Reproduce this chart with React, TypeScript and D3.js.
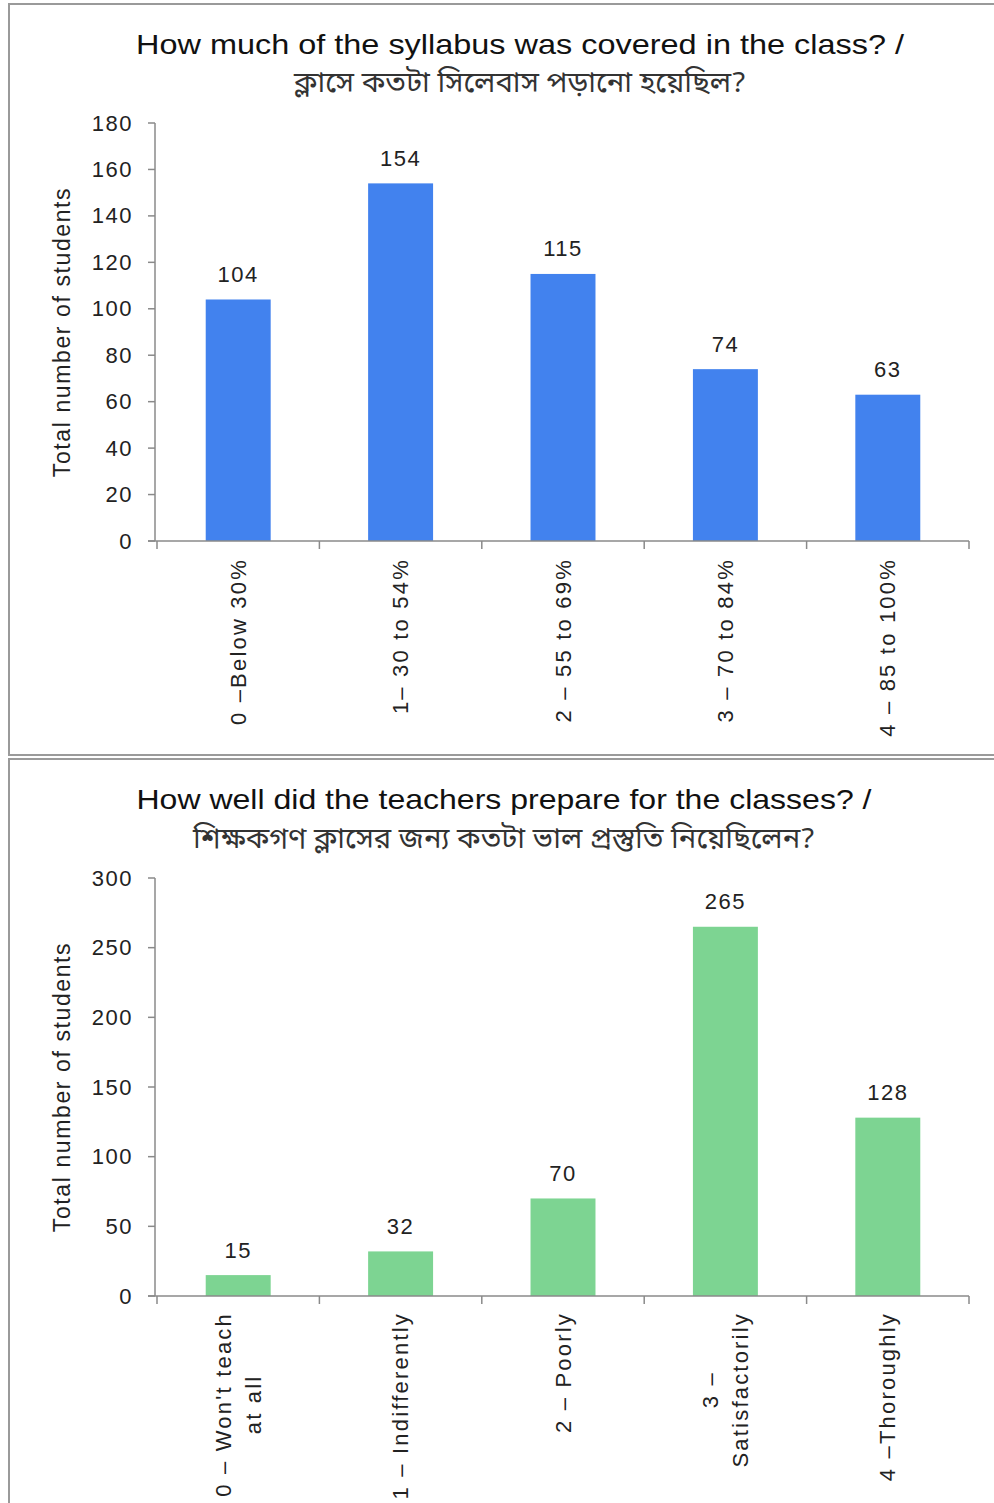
import React, { useEffect, useRef } from "react";
import * as d3 from "d3";

const categories1: string[][] = [["0 –Below 30%"], ["1– 30 to 54%"], ["2 – 55 to 69%"], ["3 – 70 to 84%"], ["4 – 85 to 100%"]];
const values1: number[] = [104, 154, 115, 74, 63];
const ticks1: number[] = [0, 20, 40, 60, 80, 100, 120, 140, 160, 180];
const title1a = "How much of the syllabus was covered in the class?  /";
const title1b = "ক্লাসে কতটা সিলেবাস পড়ানো হয়েছিল?";

const categories2: string[][] = [["0 – Won't teach", "at all"], ["1 – Indifferently"], ["2 – Poorly"], ["3 –", "Satisfactorily"], ["4 –Thoroughly"]];
const values2: number[] = [15, 32, 70, 265, 128];
const ticks2: number[] = [0, 50, 100, 150, 200, 250, 300];
const title2a = "How well did the teachers prepare for the classes? /";
const title2b = "শিক্ষকগণ ক্লাসের জন্য কতটা ভাল প্রস্তুতি নিয়েছিলেন?";

const yTitle = "Total number of students";

const FONT = "'Liberation Sans', Arial, sans-serif";
const BN_FONT = "'Noto Sans Bengali', 'Lohit Bengali', 'FreeSans', 'Noto Sans', sans-serif";

interface ChartCfg {
  cats: string[][];
  vals: number[];
  ticks: number[];
  max: number;
  color: string;
  t1: string;
  t2: string;
  titleX: number;
  t1Len: number;
  t2Len: number;
  t1Y: number;
  t2Y: number;
  plotTop: number;
  plotBottom: number;
  labelTop: number;
}

const charts: ChartCfg[] = [
  {
    cats: categories1, vals: values1, ticks: ticks1, max: 180, color: "#4282ee",
    t1: title1a, t2: title1b, titleX: 520, t1Len: 768, t2Len: 452, t1Y: 54, t2Y: 92,
    plotTop: 123, plotBottom: 541, labelTop: 558,
  },
  {
    cats: categories2, vals: values2, ticks: ticks2, max: 300, color: "#7dd492",
    t1: title2a, t2: title2b, titleX: 504, t1Len: 735, t2Len: 622, t1Y: 809, t2Y: 848,
    plotTop: 878, plotBottom: 1296, labelTop: 1312,
  },
];

export default function App() {
  const ref = useRef<SVGSVGElement>(null);

  useEffect(() => {
    const svg = d3.select(ref.current);
    svg.selectAll("*").remove();
    svg.append("rect").attr("width", 994).attr("height", 1503).attr("fill", "#fff");

    // panel frames
    const frame = svg.append("g").attr("stroke", "#9a9a9a").attr("stroke-width", 2).attr("fill", "none");
    frame.append("path").attr("d", "M9,1503 V759 H994");
    frame.append("path").attr("d", "M994,755 H9 V4 H994");

    const xLeft = 157;
    const xRight = 969;
    const axisX = 155;

    charts.forEach((c) => {
      const g = svg.append("g");
      const idx = c.cats.map((_, i) => String(i));
      const xBand = d3.scaleBand<string>().domain(idx).range([xLeft, xRight]).padding(0);
      const xBar = d3.scaleBand<string>().domain(idx).range([xLeft, xRight]).paddingInner(0.6).paddingOuter(0.3);
      const y = d3.scaleLinear().domain([0, c.max]).range([c.plotBottom, c.plotTop]);

      // titles
      g.append("text")
        .attr("x", c.titleX).attr("y", c.t1Y)
        .attr("text-anchor", "middle")
        .attr("font-family", FONT).attr("font-size", 28)
        .attr("fill", "#111")
        .attr("textLength", c.t1Len).attr("lengthAdjust", "spacingAndGlyphs")
        .text(c.t1);
      g.append("text")
        .attr("x", c.titleX).attr("y", c.t2Y)
        .attr("text-anchor", "middle")
        .attr("font-family", BN_FONT).attr("font-size", 28)
        .attr("fill", "#333")
        .attr("textLength", c.t2Len).attr("lengthAdjust", "spacingAndGlyphs")
        .text(c.t2);

      // bars
      g.selectAll("rect.bar").data(c.vals).enter().append("rect")
        .attr("class", "bar")
        .attr("x", (_, i) => xBar(String(i))!)
        .attr("width", xBar.bandwidth())
        .attr("y", (d) => y(d))
        .attr("height", (d) => y(0) - y(d))
        .attr("fill", c.color);

      // value labels
      g.selectAll("text.val").data(c.vals).enter().append("text")
        .attr("class", "val")
        .attr("x", (_, i) => xBand(String(i))! + xBand.bandwidth() / 2)
        .attr("y", (d) => y(d) - 25)
        .attr("text-anchor", "middle")
        .attr("dominant-baseline", "central")
        .attr("font-family", FONT).attr("font-size", 22)
        .attr("letter-spacing", 1.5)
        .attr("fill", "#222")
        .text((d) => String(d));

      // y axis
      const axisG = g.append("g").attr("stroke", "#8a8a8a").attr("stroke-width", 1.5);
      axisG.append("line").attr("x1", axisX).attr("x2", axisX).attr("y1", y(c.max)).attr("y2", y(0));
      axisG.selectAll("line.yt").data(c.ticks).enter().append("line")
        .attr("x1", axisX - 7).attr("x2", axisX)
        .attr("y1", (d) => y(d)).attr("y2", (d) => y(d));
      g.selectAll("text.ytl").data(c.ticks).enter().append("text")
        .attr("x", axisX - 22).attr("y", (d) => y(d))
        .attr("text-anchor", "end")
        .attr("dominant-baseline", "central")
        .attr("font-family", FONT).attr("font-size", 22)
        .attr("letter-spacing", 1.5)
        .attr("fill", "#222")
        .text((d) => String(d));

      // x axis
      axisG.append("line").attr("x1", axisX - 7).attr("x2", xRight).attr("y1", y(0)).attr("y2", y(0));
      const bounds = idx.map((k) => xBand(k)!).concat([xRight]);
      axisG.selectAll("line.xt").data(bounds).enter().append("line")
        .attr("x1", (d) => d).attr("x2", (d) => d)
        .attr("y1", y(0)).attr("y2", y(0) + 8);

      // y title
      const midY = (c.plotTop + c.plotBottom) / 2;
      g.append("text")
        .attr("transform", `translate(62,${midY}) rotate(-90)`)
        .attr("text-anchor", "middle")
        .attr("dominant-baseline", "central")
        .attr("font-family", FONT).attr("font-size", 23)
        .attr("letter-spacing", 1.6)
        .attr("fill", "#222")
        .text(yTitle);

      // x labels (rotated, possibly multi-line, centred lines)
      c.cats.forEach((lines, i) => {
        const cx = xBand(String(i))! + xBand.bandwidth() / 2;
        const lg = g.append("g");
        const lineGap = 30;
        const texts = lines.map((ln, j) => {
          const off = (j - (lines.length - 1) / 2) * lineGap;
          return lg.append("text")
            .attr("font-family", FONT).attr("font-size", 22)
            .attr("letter-spacing", 2.2)
            .attr("fill", "#222")
            .attr("dominant-baseline", "central")
            .attr("data-off", off)
            .text(ln);
        });
        const lens = texts.map((t) => (t.node() as SVGTextElement).getComputedTextLength());
        const maxLen = Math.max(...lens);
        texts.forEach((t) => {
          const off = +t.attr("data-off");
          t.attr("text-anchor", "middle")
            .attr("transform", `translate(${cx + off},${c.labelTop + maxLen / 2}) rotate(-90)`);
        });
      });
    });
  }, []);

  return (
    <svg
      ref={ref}
      width={994}
      height={1503}
      style={{ position: "absolute", left: 0, top: 0, display: "block" }}
    />
  );
}
